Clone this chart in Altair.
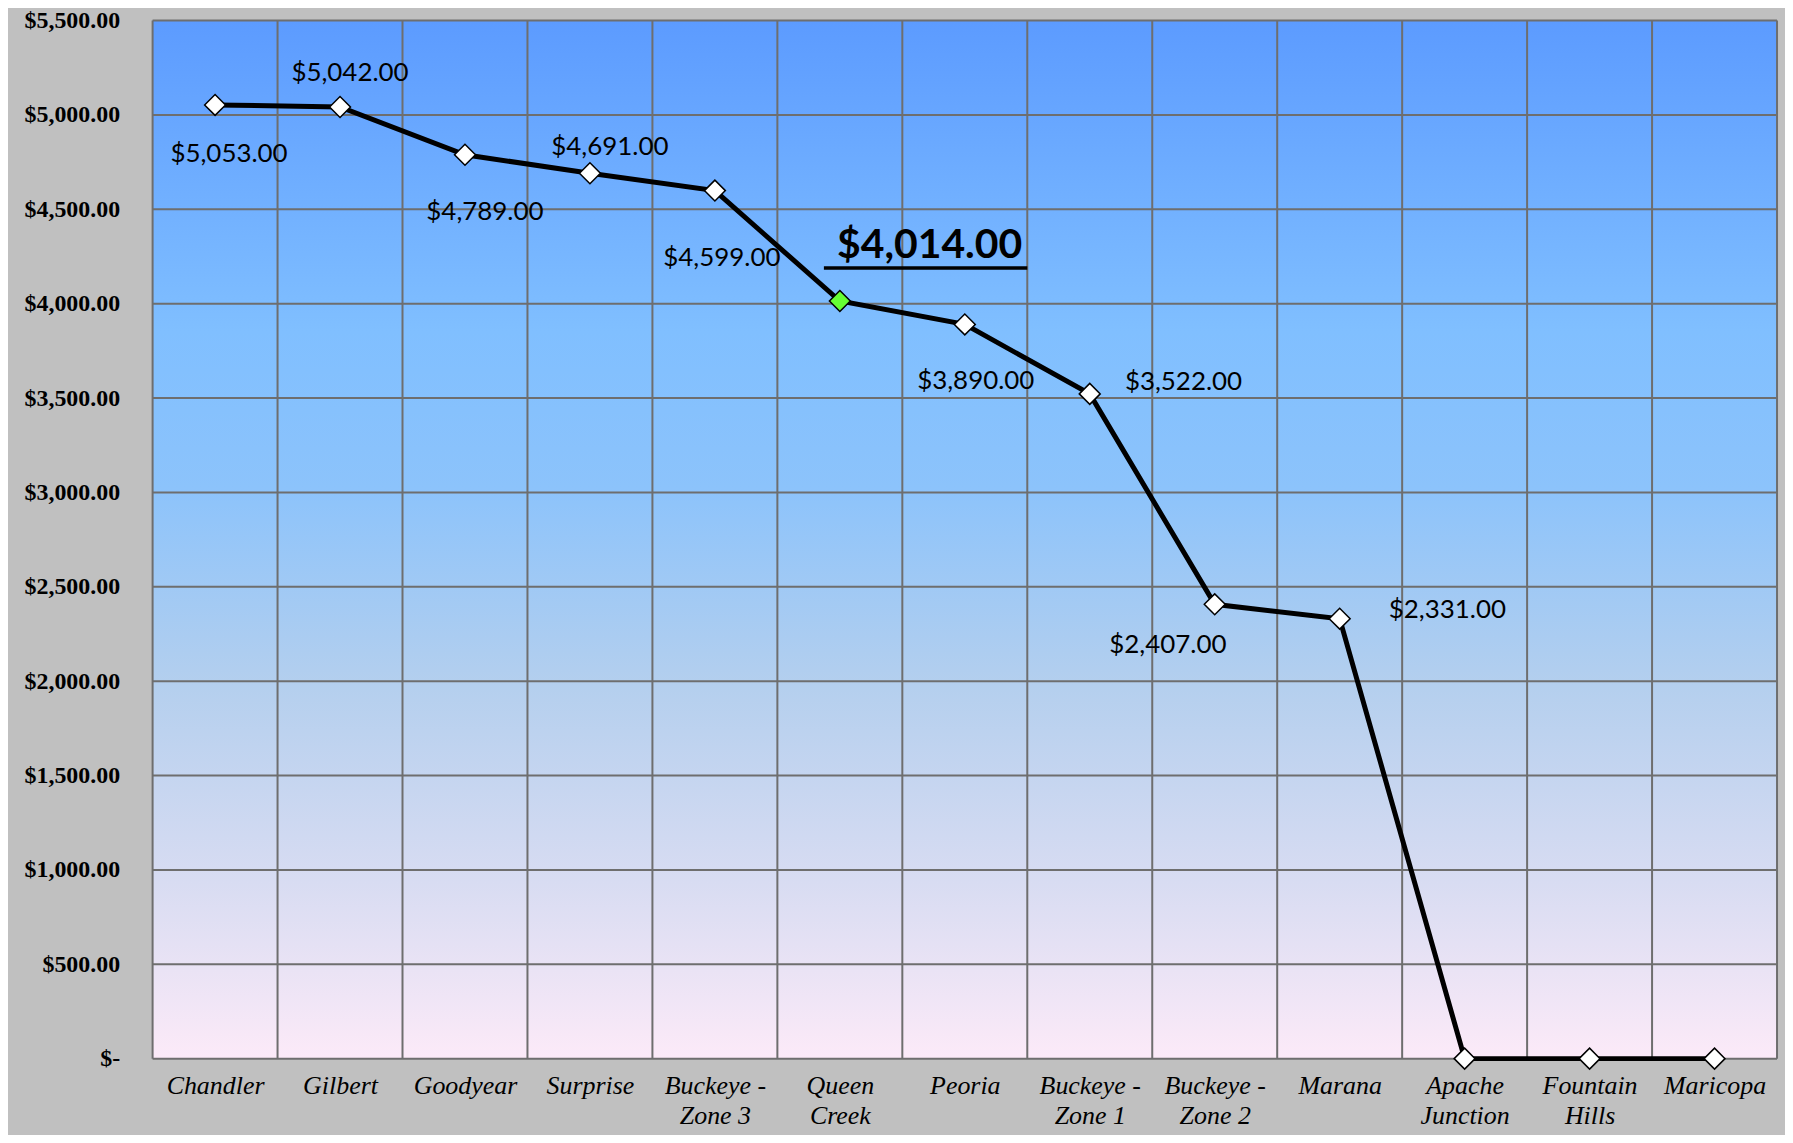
import json
import altair as alt
import pandas as pd

# ---- data ----
cities = ["Chandler", "Gilbert", "Goodyear", "Surprise", "Buckeye -|Zone 3",
          "Queen|Creek", "Peoria", "Buckeye -|Zone 1", "Buckeye -|Zone 2",
          "Marana", "Apache|Junction", "Fountain|Hills", "Maricopa"]
values = [5053, 5042, 4789, 4691, 4599, 4014, 3890, 3522, 2407, 2331, 0, 0, 0]
highlight = "Queen|Creek"
y_ticks = list(range(0, 5501, 500))

df = pd.DataFrame({
    "idx": list(range(len(cities))),
    "city": cities,
    "value": values,
    "label": [f"${v:,.2f}" for v in values],
})

# ---- style / layout ----
W, H = 1629, 1041
GRID = "#6E6E6E"
label_offsets = {  # per-city pixel offsets of the data labels (manual placement)
    "Chandler": (14, 49), "Gilbert": (10, -34), "Goodyear": (20, 57),
    "Surprise": (20, -26), "Buckeye -|Zone 3": (7, 68), "Peoria": (11, 57),
    "Buckeye -|Zone 1": (94, -12), "Buckeye -|Zone 2": (-47, 41), "Marana": (108, -9),
}

labels_js = json.dumps(cities)
x_bounds = [i - 0.5 for i in range(len(cities) + 1)]

x_scale = alt.Scale(domain=[-0.5, len(cities) - 0.5], nice=False, zero=False)
y_scale = alt.Scale(domain=[0, 5500], nice=False)

x_enc = alt.X(
    "idx:Q", scale=x_scale,
    axis=alt.Axis(
        values=list(range(len(cities))), title=None, domain=False, ticks=False, grid=False,
        labelExpr="split(" + labels_js + "[datum.value], '|')",
        labelFont="Liberation Serif", labelFontStyle="italic", labelFontSize=26,
        labelColor="black", labelLineHeight=30, labelPadding=14, labelBaseline="top",
        labelFlush=False, labelOverlap=False, labelBound=False,
    ),
)
y_enc = alt.Y(
    "value:Q", scale=y_scale,
    axis=alt.Axis(
        values=y_ticks, title=None, domain=False, ticks=False, grid=False,
        labelExpr="datum.value == 0 ? '$-\u00a0\u00a0' : '$' + format(datum.value, ',.2f')",
        labelFont="Liberation Serif", labelFontSize=24, labelFontWeight="bold",
        labelColor="black", labelPadding=33, labelFlush=False,
    ),
)

gradient = alt.Gradient(
    gradient="linear", x1=0, y1=0, x2=0, y2=1,
    stops=[
        alt.GradientStop(offset=0, color="#5C9BFF"),
        alt.GradientStop(offset=0.3, color="#80BFFF"),
        alt.GradientStop(offset=0.45, color="#8CC3FB"),
        alt.GradientStop(offset=0.64, color="#B4CFEE"),
        alt.GradientStop(offset=0.83, color="#D8DCF2"),
        alt.GradientStop(offset=1, color="#FCEAF8"),
    ],
)

bg = alt.Chart(pd.DataFrame({"k": [0]})).mark_rect(fill=gradient).encode(
    x=alt.value(0), x2=alt.value(W), y=alt.value(0), y2=alt.value(H)
)
hgrid = alt.Chart(pd.DataFrame({"value": y_ticks})).mark_rule(
    color=GRID, strokeWidth=2
).encode(y=y_enc, x=alt.value(0), x2=alt.value(W))
vgrid = alt.Chart(pd.DataFrame({"idx": x_bounds})).mark_rule(
    color=GRID, strokeWidth=2
).encode(x=x_enc, y=alt.value(0), y2=alt.value(H))

base = alt.Chart(df).encode(x=x_enc, y=y_enc)

line = base.mark_line(color="black", strokeWidth=5)
points = base.mark_point(
    shape="diamond", filled=True, size=440, stroke="black", strokeWidth=1.5, opacity=1
).encode(
    fill=alt.condition(alt.datum.city == highlight, alt.value("#66FF33"), alt.value("white"))
)

text_layers = []
for city, (dx, dy) in label_offsets.items():
    text_layers.append(
        base.transform_filter(alt.datum.city == city)
        .mark_text(dx=dx, dy=dy, font="Lato", fontSize=26, color="black",
                   align="center", baseline="middle")
        .encode(text="label:N")
    )

big_label = (
    base.transform_filter(alt.datum.city == highlight)
    .mark_text(dx=90, dy=-55, font="Lato", fontSize=41, fontWeight="bold",
               color="black", align="center", baseline="middle")
    .encode(text="label:N")
)
underline = (
    base.transform_filter(alt.datum.city == highlight)
    .mark_rule(color="black", strokeWidth=3.5, xOffset=-16, x2Offset=188,
               yOffset=-33, y2Offset=-33)
    .encode(x2="idx:Q", y2="value:Q")
)

chart = (
    alt.layer(bg, hgrid, vgrid, line, points, *text_layers, big_label, underline)
    .properties(
        width=W, height=H,
        autosize=alt.AutoSizeParams(type="none"),
        padding={"left": 145, "top": 11, "right": 8, "bottom": 75},
    )
    .configure(background="#C0C0C0")
    .configure_view(stroke=None)
)

chart.save("out.html", embed_options={"renderer": "svg", "actions": False})
